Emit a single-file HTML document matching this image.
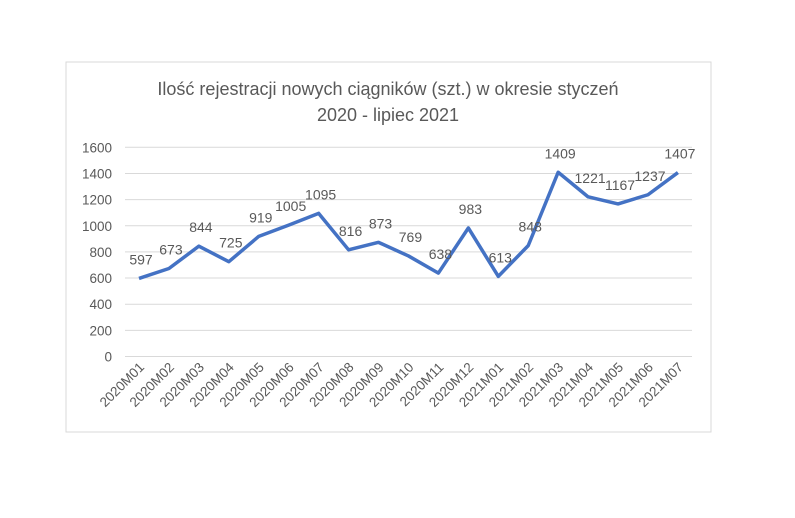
<!DOCTYPE html>
<html><head><meta charset="utf-8"><style>
body{margin:0;background:#fff;}
svg text{font-family:"Liberation Sans",sans-serif;fill:#595959;}
</style></head><body>
<svg width="795" height="513" viewBox="0 0 795 513">
<rect x="66" y="62" width="645" height="370" fill="#fff" stroke="#d9d9d9"/>
<text x="388" y="95" text-anchor="middle" font-size="18">Ilość rejestracji nowych ciągników (szt.) w okresie styczeń</text>
<text x="388" y="121" text-anchor="middle" font-size="18">2020 - lipiec 2021</text>
<g id="grid"></g><g id="yt"></g><g id="xt"></g><g id="ser"></g><g id="lbl"></g>
</svg>
<script>
const categories=["2020M01","2020M02","2020M03","2020M04","2020M05","2020M06","2020M07","2020M08","2020M09","2020M10","2020M11","2020M12","2021M01","2021M02","2021M03","2021M04","2021M05","2021M06","2021M07"];
const values=[597,673,844,725,919,1005,1095,816,873,769,638,983,613,848,1409,1221,1167,1237,1407];
const yTicks=[0,200,400,600,800,1000,1200,1400,1600];
const NS="http://www.w3.org/2000/svg";
const x0=139,dx=29.94,yBase=356.5,yTop=147.3,yMax=1600;
function X(i){return x0+i*dx;}
function Y(v){return yBase-(v/yMax)*(yBase-yTop);}
function mk(t,a,p){const e=document.createElementNS(NS,t);for(const k in a)e.setAttribute(k,a[k]);document.getElementById(p).appendChild(e);return e;}
yTicks.forEach(v=>{
 const l=mk('line',{x1:125,x2:692,y1:Y(v),y2:Y(v),stroke:'#d9d9d9','stroke-width':1},'grid');
 
 
 const t=mk('text',{x:112,y:Y(v)+5,'text-anchor':'end','font-size':13.5},'yt');
 t.textContent=v;
 
 
});
categories.forEach((c,i)=>{
 const t=mk('text',{x:X(i)+6,y:368,'text-anchor':'end','font-size':13.5,transform:`rotate(-45 ${X(i)+6} 368)`},'xt');
 t.textContent=c;
 
 
});
const p=mk('polyline',{points:values.map((v,i)=>X(i)+','+Y(v)).join(' '),fill:'none',stroke:'#4472c4','stroke-width':3.5,'stroke-linejoin':'round'},'ser');


values.forEach((v,i)=>{
 const t=mk('text',{x:X(i)+2,y:Y(v)-14,'text-anchor':'middle','font-size':14},'lbl');
 t.textContent=v;
 
 
});
</script>
</body></html>
